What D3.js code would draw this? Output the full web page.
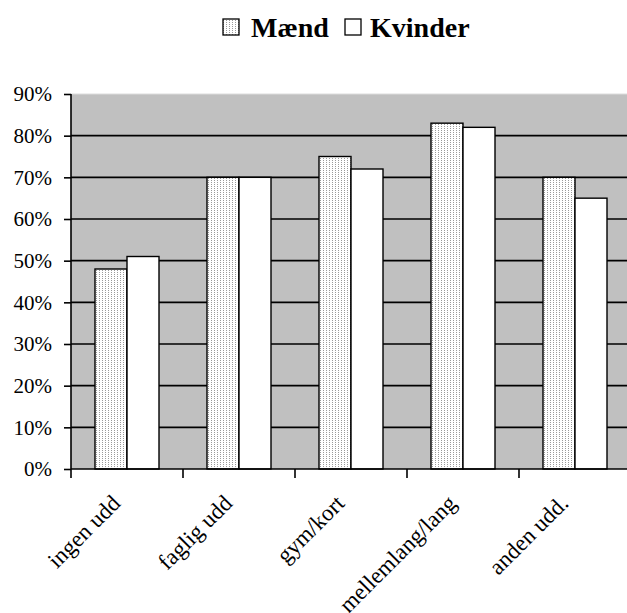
<!DOCTYPE html>
<html>
<head>
<meta charset="utf-8">
<script src="https://cdn.jsdelivr.net/npm/d3@7"></script>
<style>
  html, body { margin: 0; padding: 0; background: #fff; }
  svg { display: block; }
  text { font-family: "Liberation Serif", "Times New Roman", serif; fill: #000; }
</style>
</head>
<body>
<svg id="chart" width="627" height="613"></svg>
<script>
// Andel efter uddannelse, mænd og kvinder
const categories = ["ingen udd", "faglig udd", "gym/kort", "mellemlang/lang", "anden udd."];
const seriesNames = ["Mænd", "Kvinder"];
const maend   = [0.48, 0.70, 0.75, 0.83, 0.70];
const kvinder = [0.51, 0.70, 0.72, 0.82, 0.65];
const yTicks = [0, 0.1, 0.2, 0.3, 0.4, 0.5, 0.6, 0.7, 0.8, 0.9];

const rows = categories.map((c, i) => ({ cat: c, values: [maend[i], kvinder[i]] }));

const svg = d3.select("#chart");
const plot = { left: 71, right: 631, top: 94, bottom: 469 };

// dotted fill for the first series
const defs = svg.append("defs");
const pat = defs.append("pattern")
  .attr("id", "dots").attr("patternUnits", "userSpaceOnUse")
  .attr("width", 3).attr("height", 2);
pat.append("rect").attr("width", 3).attr("height", 2).attr("fill", "#fff");
pat.append("rect").attr("x", 1).attr("y", 0).attr("width", 1).attr("height", 1).attr("fill", "#9a9a9a");

const fills = ["url(#dots)", "#fff"];

const x0 = d3.scaleBand().domain(categories).range([plot.left, plot.right]);
const x1 = d3.scaleBand().domain(seriesNames).range([0, x0.bandwidth()]).paddingOuter(0.75).paddingInner(0);
const y = d3.scaleLinear().domain([0, 0.9]).range([plot.bottom, plot.top]);

// plot background
svg.append("rect")
  .attr("x", plot.left).attr("y", plot.top)
  .attr("width", plot.right - plot.left).attr("height", plot.bottom - plot.top)
  .attr("fill", "#c0c0c0");

// gridlines
svg.append("g").selectAll("line").data(yTicks.filter(t => t > 0)).join("line")
  .attr("x1", plot.left).attr("x2", plot.right)
  .attr("y1", d => y(d)).attr("y2", d => y(d))
  .attr("stroke", d => d === 0.9 ? "#dcdcdc" : "#000")
  .attr("stroke-width", d => d === 0.9 ? 1 : 1.6);

// bars
const groups = svg.append("g").selectAll("g").data(rows).join("g")
  .attr("transform", d => `translate(${x0(d.cat)},0)`);
groups.selectAll("rect").data(d => d.values.map((v, i) => ({ name: seriesNames[i], v, i }))).join("rect")
  .attr("x", d => x1(d.name))
  .attr("y", d => y(d.v))
  .attr("width", x1.bandwidth())
  .attr("height", d => y(0) - y(d.v))
  .attr("fill", d => fills[d.i])
  .attr("stroke", "#000")
  .attr("stroke-width", 1.4);

// y axis
const yAxis = d3.axisLeft(y).tickValues(yTicks).tickFormat(d3.format(".0%")).tickSize(7).tickPadding(12);
const gy = svg.append("g").attr("transform", `translate(${plot.left},0)`).call(yAxis);
gy.select(".domain").attr("stroke", "#000").attr("stroke-width", 1.6).attr("d", `M0,${plot.top}V${plot.bottom}`);
gy.selectAll(".tick line").attr("stroke", "#000").attr("stroke-width", 1.6);
gy.selectAll(".tick text").style("font-family", "'Liberation Serif', serif").style("font-size", "21px").attr("fill", "#000");

// x axis: boundary ticks between categories
const xBounds = categories.map(c => x0(c));
const gx = svg.append("g");
gx.append("line")
  .attr("x1", plot.left).attr("x2", plot.right)
  .attr("y1", plot.bottom).attr("y2", plot.bottom)
  .attr("stroke", "#000").attr("stroke-width", 1.6);
gx.selectAll(".bt").data(xBounds).join("line").attr("class", "bt")
  .attr("x1", d => d).attr("x2", d => d)
  .attr("y1", plot.bottom).attr("y2", plot.bottom + 9)
  .attr("stroke", "#000").attr("stroke-width", 1.6);
gx.selectAll("text").data(categories).join("text")
  .attr("transform", d => `translate(${x0(d) + x0.bandwidth() / 2 - 11},499) rotate(-45)`)
  .attr("text-anchor", "end")
  .attr("dy", "0.35em")
  .style("font-size", "23px")
  .text(d => d);

// legend
const legend = svg.append("g");
const legendItems = [
  { name: seriesNames[0], fill: fills[0], sx: 223, tx: 251 },
  { name: seriesNames[1], fill: fills[1], sx: 345, tx: 370 }
];
legend.selectAll("rect").data(legendItems).join("rect")
  .attr("x", d => d.sx).attr("y", 19).attr("width", 16).attr("height", 16)
  .attr("fill", d => d.fill).attr("stroke", "#000").attr("stroke-width", 1.3);
legend.selectAll("text").data(legendItems).join("text")
  .attr("x", d => d.tx).attr("y", 37)
  .style("font-size", "28px").style("font-weight", "bold")
  .text(d => d.name);
</script>
</body>
</html>
